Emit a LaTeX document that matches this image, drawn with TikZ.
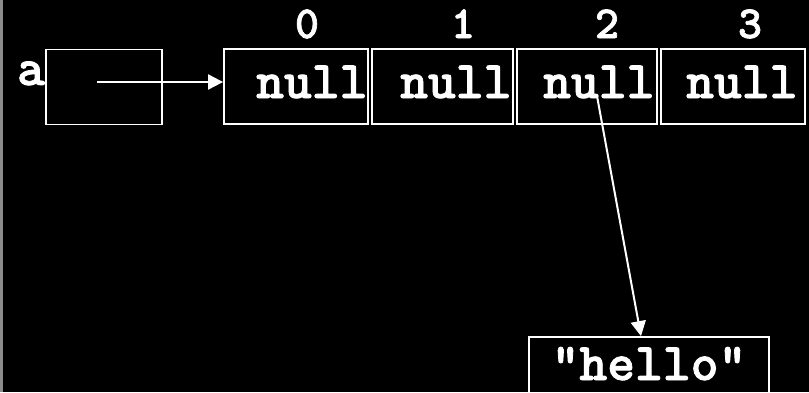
\documentclass[tikz,border=0pt]{standalone}
\usepackage{fontspec}
\newfontfamily\codefont{lmmonolt10-bold}[Extension=.otf, FakeBold=1.5]
\usetikzlibrary{arrows.meta}
\tikzset{
  lbl/.style={text=white, inner sep=0pt, font=\fontsize{53}{53}\selectfont\codefont},
  idx/.style={text=white, inner sep=0pt, font=\fontsize{46}{46}\selectfont\codefont},
  cellbox/.style={draw=white, line width=1.8pt, minimum height=75pt, inner sep=0pt},
  ptr/.style={draw=white, line width=2pt, -{Triangle[length=15pt,width=15pt]}},
}
\begin{document}
\begin{tikzpicture}[x=1pt,y=-1pt]
  % canvas
  \fill[black] (0,0) rectangle (809,392);
  \fill[black!45] (0,0) rectangle (3,392);
  \useasboundingbox (0,0) rectangle (809,392);

  % reference variable a
  \node[cellbox, minimum width=116pt] (abox) at (104,87) {};
  \node[lbl, anchor=base] (aname) at (31,85) {a};

  % array cells
  \node[cellbox, minimum width=144pt] (c0) at (296,86.5) {};
  \node[cellbox, minimum width=141pt] (c1) at (442.5,86.5) {};
  \node[cellbox, minimum width=140pt] (c2) at (587,86.5) {};
  \node[cellbox, minimum width=144pt] (c3) at (733,86.5) {};

  % cell contents
  \node[lbl, anchor=base west] (n0) at (256,98) {null};
  \node[lbl, anchor=base west] (n1) at (400,98) {null};
  \node[lbl, anchor=base west] (n2) at (543,98) {null};
  \node[lbl, anchor=base west] (n3) at (686,98) {null};

  % indices
  \node[idx, anchor=base] (i0) at (307,38) {0};
  \node[idx, anchor=base] (i1) at (463,38) {1};
  \node[idx, anchor=base] (i2) at (607,38) {2};
  \node[idx, anchor=base] (i3) at (750,38) {3};

  % string object
  \node[cellbox, minimum width=240pt, minimum height=66pt] (str) at (649,370) {};
  \node[lbl, anchor=base] (strtext) at (649,380) {"hello"};

  % references
  \coordinate (astart) at (97,82);
  \draw[ptr] (astart) -- (astart -| c0.west);
  \coordinate (c2start) at (597,96);
  \draw[ptr] (c2start) -- ([xshift=-8pt]str.north);
\end{tikzpicture}
\end{document}
